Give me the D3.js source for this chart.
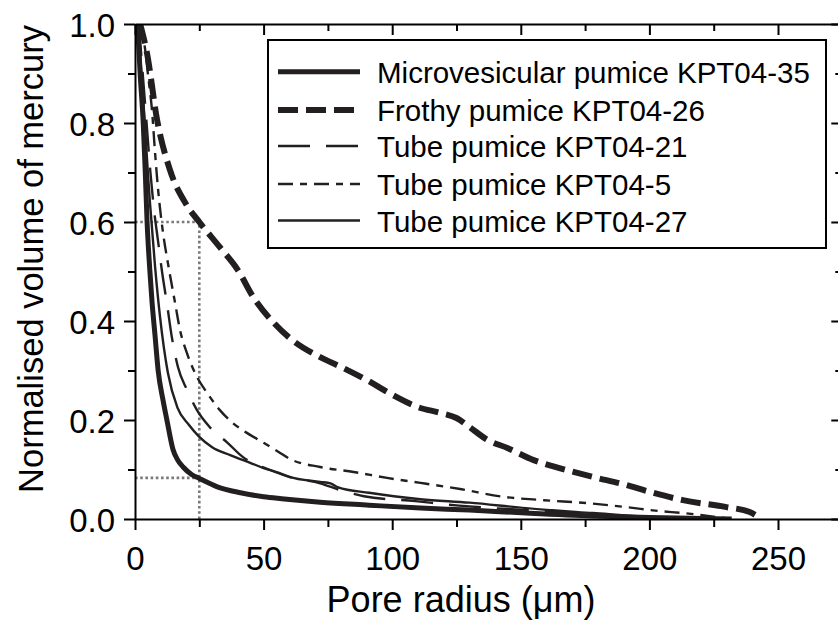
<!DOCTYPE html>
<html>
<head>
<meta charset="utf-8">
<script src="https://cdn.jsdelivr.net/npm/d3@7"></script>
<style>
  html, body { margin: 0; padding: 0; background: #fff; }
  svg { display: block; }
  text { font-family: "Liberation Sans", Arial, Helvetica, sans-serif; fill: #000; }
</style>
</head>
<body>
<svg id="chart" width="838" height="634"></svg>
<script>
// ---------------- data ----------------
const seriesNames = [
  "Microvesicular pumice KPT04-35",
  "Frothy pumice KPT04-26",
  "Tube pumice KPT04-21",
  "Tube pumice KPT04-5",
  "Tube pumice KPT04-27"
];

// [pore radius (µm), normalised volume]
const micro35 = [[1.0,1.0],[2.0,0.90],[3.2,0.80],[4.0,0.70],[4.7,0.60],[5.8,0.50],[6.6,0.44],[7.8,0.37],[9.0,0.30],[10.9,0.24],[12.4,0.20],[14.8,0.14],[16.5,0.12],[18.7,0.105],[22,0.09],[25,0.082],[32,0.065],[41,0.053],[50,0.045],[57,0.041],[72,0.034],[91,0.028],[111,0.022],[130,0.018],[152,0.012],[178,0.006],[200,0.003],[232,0.0]];
const frothy26 = [[2.0,1.0],[4.7,0.94],[8.6,0.806],[13.6,0.705],[20,0.635],[25,0.60],[33,0.549],[40,0.503],[46,0.448],[54,0.396],[61,0.362],[72,0.327],[81,0.305],[90,0.281],[100,0.251],[110,0.226],[119,0.214],[125,0.204],[130,0.186],[137,0.160],[145,0.143],[155,0.119],[165,0.103],[178,0.085],[190,0.070],[200,0.055],[213,0.038],[230,0.024],[239,0.014],[243,0.002]];
const tube21 = [[1.5,1.0],[3.0,0.90],[4.5,0.80],[6.0,0.70],[7.5,0.62],[9.0,0.56],[10.5,0.50],[12.4,0.436],[14.4,0.365],[16.7,0.307],[20.2,0.261],[24.1,0.22],[29,0.186],[36,0.154],[42,0.125],[46,0.113],[52,0.10],[60,0.085],[72,0.072],[80,0.058],[89,0.046],[109,0.036],[126,0.027],[152,0.018],[178,0.010],[200,0.004],[228,0.0]];
const tube5 = [[2.0,1.0],[3.9,0.95],[5.0,0.90],[6.6,0.826],[7.8,0.74],[8.9,0.67],[10.9,0.578],[12.8,0.517],[15.6,0.436],[17.5,0.382],[20.2,0.335],[24.1,0.287],[28,0.255],[33,0.22],[38,0.194],[43.5,0.174],[50,0.154],[56,0.135],[60,0.122],[72,0.105],[85,0.095],[98,0.083],[111,0.073],[127,0.060],[143,0.045],[159,0.038],[176,0.032],[191,0.024],[204,0.016],[213,0.012],[232,0.0]];
const tube27 = [[1.2,1.0],[2.5,0.90],[3.8,0.80],[5.0,0.70],[5.8,0.64],[7.8,0.51],[9.7,0.41],[12.8,0.295],[16.5,0.225],[21,0.19],[25,0.166],[30,0.145],[37,0.129],[45,0.113],[50,0.103],[56,0.093],[60,0.085],[72,0.075],[76,0.072],[79,0.064],[91,0.053],[111,0.040],[130,0.033],[152,0.022],[178,0.012],[200,0.004],[225,0.0]];

const xMajorTicks = [0, 50, 100, 150, 200, 250];
const xMinorTicks = [25, 75, 125, 175, 225, 275];
const yMajorTicks = [0, 0.2, 0.4, 0.6, 0.8, 1.0];
const yMinorTicks = [0.1, 0.3, 0.5, 0.7, 0.9];
const guideRadius = 25;
const guideVolumes = [0.6, 0.083];

// ---------------- layout ----------------
const svg = d3.select("#chart");
const ink = "#231f20";
const mLeft = 135, mRight = 842.3, mTop = 24, mBottom = 519;

const x = d3.scaleLinear().domain([0, 275]).range([mLeft, mRight]);
const y = d3.scaleLinear().domain([0, 1]).range([mBottom, mTop]);

// clip
svg.append("defs").append("clipPath").attr("id", "plotclip")
  .append("rect").attr("x", mLeft).attr("y", mTop).attr("width", mRight - mLeft).attr("height", mBottom - mTop);

// guides (dotted grey)
const guides = svg.append("g").attr("stroke", "#7a7a7a").attr("stroke-width", 2.6)
  .attr("stroke-dasharray", "2.6,2.6").attr("fill", "none");
guides.append("line").attr("x1", x(guideRadius)).attr("x2", x(guideRadius))
  .attr("y1", y(0)).attr("y2", y(guideVolumes[0]));
guideVolumes.forEach(v => {
  guides.append("line").attr("x1", x(0)).attr("x2", x(guideRadius))
    .attr("y1", y(v)).attr("y2", y(v));
});

// series styles
const styles = [
  { data: micro35, width: 5, dash: null },
  { data: frothy26, width: 6, dash: "20,8" },
  { data: tube21, width: 2.4, dash: "32,16" },
  { data: tube5, width: 2.4, dash: "15,7,7,7" },
  { data: tube27, width: 2.4, dash: null }
];

const line = d3.line().x(d => x(d[0])).y(d => y(d[1])).curve(d3.curveMonotoneX);
const plot = svg.append("g").attr("clip-path", "url(#plotclip)");
styles.slice().reverse().forEach(s => {
  plot.append("path").datum(s.data)
    .attr("d", line)
    .attr("fill", "none")
    .attr("stroke", ink)
    .attr("stroke-width", s.width)
    .attr("stroke-dasharray", s.dash)
    .attr("stroke-linejoin", "round");
});

// ---------------- axes ----------------
function styleAxis(g) {
  g.selectAll("path").attr("stroke", "#000").attr("stroke-width", 2);
  g.selectAll("line").attr("stroke", "#000").attr("stroke-width", 2);
  g.selectAll("text").style("font-family", '"Liberation Sans", Arial, sans-serif').attr("fill", "#000");
}

// bottom
const gB = svg.append("g").attr("transform", `translate(0,${mBottom})`)
  .call(d3.axisBottom(x).tickValues(xMajorTicks).tickSize(11).tickSizeOuter(0).tickPadding(17).tickFormat(d3.format("d")));
gB.selectAll("text").attr("font-size", 33);
styleAxis(gB);
const gBm = svg.append("g").attr("transform", `translate(0,${mBottom})`)
  .call(d3.axisBottom(x).tickValues(xMinorTicks).tickSize(8).tickFormat(""));
gBm.select(".domain").remove();
styleAxis(gBm);

// top (inward)
const gT = svg.append("g").attr("transform", `translate(0,${mTop})`)
  .call(d3.axisBottom(x).tickValues(xMajorTicks).tickSize(11).tickSizeOuter(0).tickFormat(""));
styleAxis(gT);
const gTm = svg.append("g").attr("transform", `translate(0,${mTop})`)
  .call(d3.axisBottom(x).tickValues(xMinorTicks).tickSize(7).tickFormat(""));
gTm.select(".domain").remove();
styleAxis(gTm);

// left
const gL = svg.append("g").attr("transform", `translate(${mLeft},0)`)
  .call(d3.axisLeft(y).tickValues(yMajorTicks).tickSize(11).tickSizeOuter(0).tickPadding(9).tickFormat(d3.format(".1f")));
gL.selectAll("text").attr("font-size", 33).attr("dy", "0.38em");
styleAxis(gL);
const gLm = svg.append("g").attr("transform", `translate(${mLeft},0)`)
  .call(d3.axisLeft(y).tickValues(yMinorTicks).tickSize(7).tickFormat(""));
gLm.select(".domain").remove();
styleAxis(gLm);

// right (inward)
const gR = svg.append("g").attr("transform", `translate(${mRight},0)`)
  .call(d3.axisLeft(y).tickValues(yMajorTicks).tickSize(11).tickSizeOuter(0).tickFormat(""));
styleAxis(gR);
const gRm = svg.append("g").attr("transform", `translate(${mRight},0)`)
  .call(d3.axisLeft(y).tickValues(yMinorTicks).tickSize(7).tickFormat(""));
gRm.select(".domain").remove();
styleAxis(gRm);

// axis titles
svg.append("text").attr("x", 461).attr("y", 612).attr("text-anchor", "middle")
  .attr("font-size", 36).text("Pore radius (μm)");
svg.append("text").attr("transform", "translate(43,259) rotate(-90)").attr("text-anchor", "middle")
  .attr("font-size", 34.5).text("Normalised volume of mercury");

// ---------------- legend ----------------
const leg = svg.append("g");
leg.append("rect").attr("x", 268).attr("y", 40).attr("width", 558).attr("height", 208)
  .attr("fill", "#fff").attr("stroke", "#000").attr("stroke-width", 2);
const legLineY = [71.7, 110, 146, 184, 220.5];
seriesNames.forEach((name, i) => {
  const s = styles[i];
  leg.append("line").attr("x1", 278).attr("x2", 360).attr("y1", legLineY[i]).attr("y2", legLineY[i])
    .attr("stroke", ink).attr("stroke-width", s.width).attr("stroke-dasharray", s.dash);
  leg.append("text").attr("x", 377).attr("y", legLineY[i] + 11).attr("font-size", 29.5).text(name);
});
</script>
</body>
</html>
